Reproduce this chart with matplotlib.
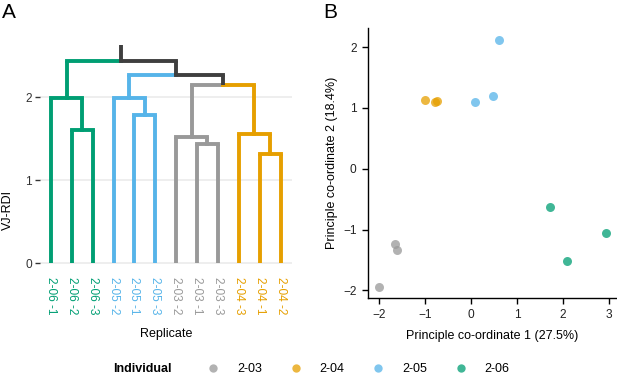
import matplotlib
matplotlib.use("Agg")
import matplotlib.pyplot as plt
from matplotlib.lines import Line2D

plt.rcParams['font.family'] = ['Liberation Sans', 'DejaVu Sans']

# colours per individual
individuals = ["2-03", "2-04", "2-05", "2-06"]
ind_colors = {"2-03": "#999999", "2-04": "#E69F00", "2-05": "#56B4E9", "2-06": "#009E73"}
mixed_color = "#3F3F3F"

# dendrogram (panel A), leaves in plotted order
leaf_labels = ["2-06 -1", "2-06 -2", "2-06 -3", "2-05 -2", "2-05 -1", "2-05 -3",
               "2-03 -2", "2-03 -1", "2-03 -3", "2-04 -3", "2-04 -1", "2-04 -2"]
# merges: (left node, right node, height); new node ids start at 12
merge_left = [1, 0, 4, 3, 7, 6, 10, 9, 17, 15, 13]
merge_right = [2, 12, 5, 14, 8, 16, 11, 18, 19, 20, 21]
merge_height = [1.60, 1.99, 1.78, 1.99, 1.44, 1.52, 1.31, 1.56, 2.14, 2.27, 2.44]
root_top = 2.63

# PCoA (panel B)
pc_ind = ["2-05", "2-05", "2-05", "2-04", "2-04", "2-04",
          "2-06", "2-06", "2-06", "2-03", "2-03", "2-03"]
pc1 = [0.61, 0.49, 0.09, -1.01, -0.78, -0.73, 1.72, 2.93, 2.10, -1.66, -1.62, -2.01]
pc2 = [2.12, 1.19, 1.09, 1.13, 1.09, 1.12, -0.63, -1.05, -1.51, -1.24, -1.34, -1.94]

W, H = 617, 374
fig = plt.figure(figsize=(W / 100, H / 100), dpi=100)


def px_axes(left, top, right, bottom):
    return fig.add_axes([left / W, 1 - bottom / H, (right - left) / W, (bottom - top) / H])


# ---------- panel A ----------
axA = px_axes(39.5, 34, 292, 274)
n = len(leaf_labels)
xpos = {i: i + 1 for i in range(n)}
ypos = {i: 0.0 for i in range(n)}
ncol = {i: ind_colors[leaf_labels[i].split(" ")[0]] for i in range(n)}
lw = 2.8
for k, (l, r, h) in enumerate(zip(merge_left, merge_right, merge_height)):
    node = n + k
    xl, xr = xpos[l], xpos[r]
    xm = (xl + xr) / 2
    axA.plot([xl, xl], [ypos[l], h], color=ncol[l], lw=lw, solid_capstyle='butt')
    axA.plot([xr, xr], [ypos[r], h], color=ncol[r], lw=lw, solid_capstyle='butt')
    axA.plot([xl, xm], [h, h], color=ncol[l], lw=lw, solid_capstyle='projecting')
    axA.plot([xm, xr], [h, h], color=ncol[r], lw=lw, solid_capstyle='projecting')
    xpos[node] = xm
    ypos[node] = h
    ncol[node] = ncol[l] if ncol[l] == ncol[r] else mixed_color
root = n + len(merge_height) - 1
axA.plot([xpos[root], xpos[root]], [ypos[root], root_top], color=mixed_color, lw=lw,
         solid_capstyle='butt')

axA.set_xlim(0.45, n + 0.55)
axA.set_ylim(-0.13, 2.76)
axA.set_yticks([0, 1, 2])
axA.set_xticks(range(1, n + 1))
axA.set_xticklabels(leaf_labels, rotation=270, fontsize=8.6)
for t, lab in zip(axA.get_xticklabels(), leaf_labels):
    t.set_color(ind_colors[lab.split(" ")[0]])
axA.tick_params(axis='x', length=0, pad=2)
axA.tick_params(axis='y', length=3.5, width=1, color='#333333', labelsize=8.6,
                labelcolor='#333333', pad=2)
for s in axA.spines.values():
    s.set_visible(False)
axA.grid(axis='y', color='#EBEBEB', lw=1.2)
axA.set_axisbelow(True)
axA.set_xlabel("Replicate", fontsize=9, labelpad=10)
axA.set_ylabel("VJ-RDI", fontsize=9)
axA.yaxis.set_label_coords(-0.101, 0.267)
fig.text(2 / W, 1 - 13 / H, "A", fontsize=15, va='center', ha='left')

# ---------- panel B ----------
axB = px_axes(367.7, 27.7, 617, 298.3)
for ind in individuals:
    xs = [x for x, g in zip(pc1, pc_ind) if g == ind]
    ys = [y for y, g in zip(pc2, pc_ind) if g == ind]
    axB.scatter(xs, ys, s=42, color=ind_colors[ind], alpha=0.75, linewidths=0)
axB.set_xlim(-2.25, 3.18)
axB.set_ylim(-2.13, 2.32)
axB.set_xticks([-2, -1, 0, 1, 2, 3])
axB.set_yticks([-2, -1, 0, 1, 2])
axB.spines['top'].set_visible(False)
axB.spines['right'].set_visible(False)
for s in ['left', 'bottom']:
    axB.spines[s].set_linewidth(1.0)
axB.tick_params(length=4.5, width=1, labelsize=8.6, labelcolor='#222222', pad=3.5)
axB.set_xlabel("Principle co-ordinate 1 (27.5%)", fontsize=9, labelpad=6)
axB.set_ylabel("Principle co-ordinate 2 (18.4%)", fontsize=9, labelpad=4)
fig.text(323 / W, 1 - 12 / H, "B", fontsize=15, va='center', ha='left')

# ---------- legend ----------
fig.text(113 / W, 1 - 369 / H, "Individual", fontsize=9, fontweight='bold',
         va='center', ha='left')
handles = [Line2D([], [], marker='o', ls='', markersize=6, color=ind_colors[g],
                  alpha=0.75, markeredgewidth=0) for g in individuals]
fig.legend(handles, individuals, loc='center left', bbox_to_anchor=(204 / W, 1 - 369 / H),
           ncol=4, frameon=False, fontsize=9, handletextpad=1.15, columnspacing=1.95,
           handlelength=1.5, borderaxespad=0, borderpad=0)

fig.savefig("out.png", dpi=100)
